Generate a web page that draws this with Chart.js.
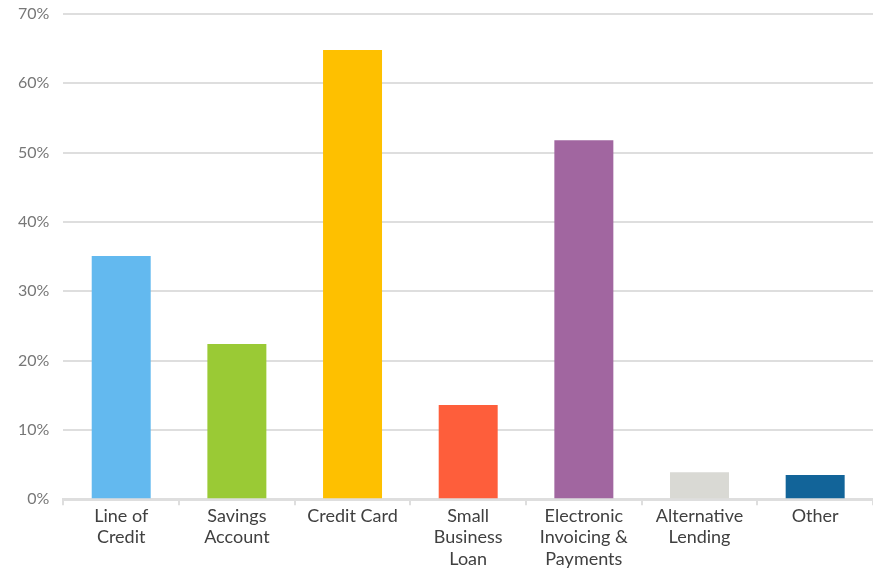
<!DOCTYPE html>
<html>
<head>
<meta charset="utf-8">
<script src="https://cdn.jsdelivr.net/npm/chart.js@4"></script>
<style>
  html, body { margin: 0; padding: 0; background: #fff; }
  #wrap { width: 873px; height: 572px; position: relative; }
</style>
</head>
<body>
<div id="wrap"><canvas id="barChart"></canvas></div>
<script>
// Data
const categories = [
    ['Line of', 'Credit'],
    ['Savings', 'Account'],
    'Credit Card',
    ['Small', 'Business', 'Loan'],
    ['Electronic', 'Invoicing &', 'Payments'],
    ['Alternative', 'Lending'],
    'Other'
];
const values = [35.1, 22.4, 64.8, 13.6, 51.8, 3.9, 3.5];
const barColors = ['#63b9ef', '#9aca35', '#fec000', '#fe5e3b', '#a166a0', '#d9d9d4', '#126499'];

const gridColor = '#dedede';

new Chart(document.getElementById('barChart'), {
    type: 'bar',
    data: {
        labels: categories,
        datasets: [{ data: values, backgroundColor: barColors, barPercentage: 0.51, categoryPercentage: 1.0 }]
    },
    options: {
        responsive: true,
        maintainAspectRatio: false,
        animation: false,
        layout: { padding: { top: 0, right: 0, left: 4, bottom: 2 } },
        plugins: { legend: { display: false }, tooltip: { enabled: false } },
        scales: {
            x: {
                grid: { display: true, drawOnChartArea: false, color: gridColor, lineWidth: 2, tickLength: 6, offset: true },
                border: { display: true, color: gridColor, width: 3 },
                ticks: { color: '#404040', font: { family: 'Lato', size: 18 }, padding: 0, maxRotation: 0, autoSkip: false }
            },
            y: {
                min: 0, max: 70,
                afterFit: scale => { scale.paddingTop = 14; },
                ticks: { stepSize: 10, color: '#777', font: { family: 'Lato', size: 16 }, padding: 14, callback: v => v + '%' },
                grid: { color: gridColor, lineWidth: 2, drawTicks: false },
                border: { display: false }
            }
        }
    }
});
</script>
</body>
</html>
